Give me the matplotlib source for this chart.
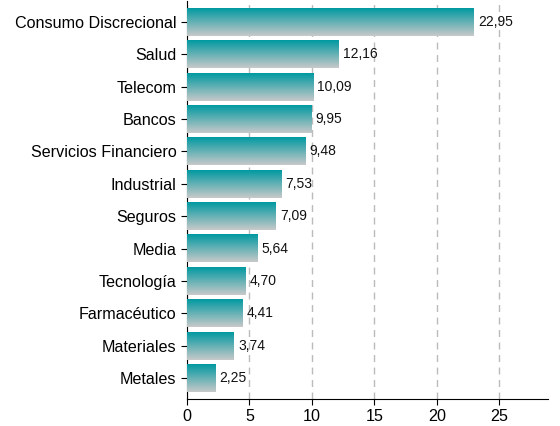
import matplotlib
matplotlib.use("Agg")
import matplotlib.pyplot as plt
import numpy as np
from matplotlib.colors import LinearSegmentedColormap

plt.rcParams['font.family'] = ['Liberation Sans', 'DejaVu Sans']

sectors = ["Consumo Discrecional", "Salud", "Telecom", "Bancos",
           "Servicios Financiero", "Industrial", "Seguros", "Media",
           "Tecnología", "Farmacéutico", "Materiales", "Metales"]
values = [22.95, 12.16, 10.09, 9.95, 9.48, 7.53, 7.09, 5.64, 4.70, 4.41, 3.74, 2.25]

grad = LinearSegmentedColormap.from_list("tealgrey", ["#c9c9c9", "#0099a1"])

fig = plt.figure(figsize=(5.6, 4.26), dpi=100)
ax = fig.add_axes([187 / 560, 27 / 426, 361 / 560, 398 / 426])

n = len(sectors)
ypos = np.arange(n)[::-1]
h = 0.86
bars = ax.barh(ypos, values, height=h, color='none', edgecolor='none', zorder=3)

g = np.linspace(0, 1, 256).reshape(-1, 1)
for bar, v in zip(bars, values):
    x0, y0 = bar.get_x(), bar.get_y()
    ax.imshow(g, cmap=grad, origin='lower', aspect='auto',
              extent=[x0, x0 + bar.get_width(), y0, y0 + bar.get_height()],
              zorder=3, interpolation='bilinear')
    ax.text(v + 0.35, bar.get_y() + h / 2, f"{v:.2f}".replace('.', ','),
            va='center', ha='left', fontsize=10, color='#111111', zorder=4)

ax.set_xlim(0, 28.9)
ax.set_ylim(-0.65, n - 0.35)
ax.set_xticks([0, 5, 10, 15, 20, 25])
ax.set_yticks(ypos)
ax.set_yticklabels(sectors, fontsize=11.6)
ax.tick_params(axis='x', labelsize=11.6, length=4)
ax.tick_params(axis='y', length=4)
ax.xaxis.grid(True, linestyle=(0, (5, 4)), color='#bbbbbb', linewidth=1, zorder=0)
ax.set_axisbelow(True)
for s in ['top', 'right']:
    ax.spines[s].set_visible(False)

fig.savefig("out.png", dpi=100)
